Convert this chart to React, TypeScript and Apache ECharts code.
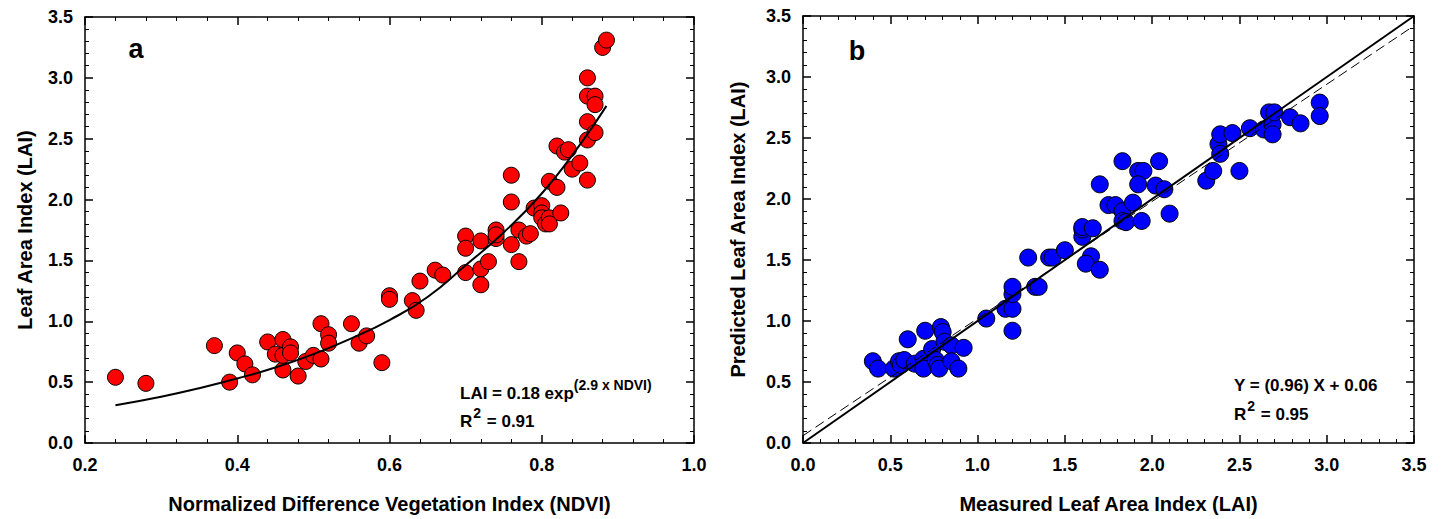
import React, { useEffect, useRef } from "react";
import * as echarts from "echarts";

// Panel a: NDVI vs measured LAI
const ndviValues = [0.24, 0.28, 0.37, 0.39, 0.40, 0.41, 0.42, 0.44, 0.45, 0.46, 0.46, 0.46, 0.47, 0.47, 0.48, 0.49, 0.50, 0.51, 0.51, 0.52, 0.52, 0.55, 0.56, 0.57, 0.59, 0.60, 0.60, 0.63, 0.635, 0.64, 0.66, 0.67, 0.70, 0.70, 0.70, 0.72, 0.72, 0.72, 0.73, 0.74, 0.74, 0.74, 0.76, 0.76, 0.76, 0.77, 0.77, 0.78, 0.785, 0.79, 0.80, 0.80, 0.80, 0.805, 0.81, 0.81, 0.81, 0.82, 0.825, 0.82, 0.83, 0.835, 0.84, 0.85, 0.86, 0.86, 0.86, 0.86, 0.86, 0.87, 0.87, 0.87, 0.88, 0.885];
const laiValues = [0.54, 0.49, 0.80, 0.50, 0.74, 0.65, 0.56, 0.83, 0.73, 0.85, 0.60, 0.72, 0.79, 0.74, 0.55, 0.67, 0.72, 0.98, 0.69, 0.89, 0.82, 0.98, 0.82, 0.88, 0.66, 1.21, 1.18, 1.17, 1.09, 1.33, 1.42, 1.38, 1.70, 1.60, 1.40, 1.66, 1.43, 1.30, 1.49, 1.75, 1.68, 1.71, 2.20, 1.98, 1.63, 1.75, 1.49, 1.70, 1.72, 1.93, 1.95, 1.89, 1.85, 1.80, 1.85, 1.80, 2.15, 2.10, 1.89, 2.44, 2.39, 2.41, 2.25, 2.30, 2.16, 2.49, 2.64, 2.85, 3.00, 2.85, 2.78, 2.55, 3.25, 3.31];

// Fitted exponential curve
const curveNdvi = [0.24, 0.3, 0.35, 0.4, 0.45, 0.5, 0.55, 0.6, 0.65, 0.7, 0.75, 0.8, 0.85, 0.885];
const curveLai = [0.31, 0.38, 0.45, 0.53, 0.62, 0.73, 0.86, 1.01, 1.2, 1.46, 1.73, 2.05, 2.45, 2.77];

// Panel b: measured vs predicted LAI
const measuredLai = [0.40, 0.43, 0.52, 0.55, 0.56, 0.58, 0.60, 0.64, 0.69, 0.69, 0.70, 0.74, 0.76, 0.77, 0.78, 0.79, 0.80, 0.81, 0.85, 0.85, 0.89, 0.92, 1.05, 1.16, 1.20, 1.20, 1.20, 1.20, 1.29, 1.33, 1.35, 1.41, 1.43, 1.50, 1.60, 1.60, 1.60, 1.65, 1.62, 1.66, 1.70, 1.70, 1.75, 1.79, 1.83, 1.83, 1.83, 1.85, 1.89, 1.92, 1.95, 1.92, 1.94, 2.02, 2.04, 2.07, 2.10, 2.31, 2.35, 2.38, 2.39, 2.39, 2.46, 2.50, 2.56, 2.64, 2.67, 2.69, 2.69, 2.70, 2.79, 2.85, 2.96, 2.96];
const predictedLai = [0.67, 0.61, 0.61, 0.67, 0.64, 0.68, 0.85, 0.65, 0.69, 0.61, 0.92, 0.77, 0.68, 0.64, 0.61, 0.95, 0.91, 0.83, 0.80, 0.67, 0.61, 0.78, 1.02, 1.10, 0.92, 1.10, 1.22, 1.28, 1.52, 1.28, 1.28, 1.52, 1.52, 1.58, 1.69, 1.75, 1.77, 1.53, 1.47, 1.76, 1.42, 2.12, 1.95, 1.95, 2.31, 1.90, 1.82, 1.81, 1.97, 2.23, 2.23, 2.12, 1.82, 2.11, 2.31, 2.08, 1.88, 2.15, 2.23, 2.45, 2.53, 2.37, 2.54, 2.23, 2.58, 2.57, 2.71, 2.61, 2.53, 2.71, 2.67, 2.62, 2.79, 2.68];

const oneToOneX = [0, 3.5];
const oneToOneY = [0, 3.5];
const regressionX = [0, 3.5];
const regressionY = [0.06, 3.42];

const FONT = "'Liberation Sans', Arial, sans-serif";
const EQ_FONT = `bold 17px ${FONT}`;
const SUP_FONT = `bold 14px ${FONT}`;

function zip(a: number[], b: number[]) {
  return a.map((v, i) => [v, b[i]]);
}

function measure(text: string, font: string) {
  const ctx = document.createElement("canvas").getContext("2d");
  if (!ctx) return text.length * 9;
  ctx.font = font;
  return ctx.measureText(text).width;
}

function axis(
  kind: "x" | "y",
  gridIndex: number,
  position: string,
  min: number,
  max: number,
  interval: number,
  showLabels: boolean,
  name: string,
  nameGap: number
) {
  return {
    type: "value",
    gridIndex,
    position,
    min,
    max,
    interval,
    name: showLabels ? name : "",
    nameLocation: "middle",
    nameGap,
    nameTextStyle: { fontFamily: FONT, fontWeight: "bold", fontSize: 20, color: "#000" },
    axisLine: { show: true, onZero: false, lineStyle: { color: "#000", width: 1.5 } },
    axisTick: { show: true, inside: true, length: 8, lineStyle: { color: "#000", width: 1.5 } },
    minorTick: { show: true, splitNumber: 5, length: 4, lineStyle: { color: "#000", width: 1 } },
    axisLabel: {
      show: showLabels,
      margin: kind === "x" ? 13 : 12,
      fontFamily: FONT,
      fontWeight: "bold",
      fontSize: 18,
      color: "#000",
      formatter: (v: number) => v.toFixed(1),
    },
    splitLine: { show: false },
    minorSplitLine: { show: false },
  };
}

function eqTexts(x: number, y: number, main: string, sup: string, y2: number, r2: string) {
  const w1 = measure(main, EQ_FONT);
  const wR = measure("R", EQ_FONT);
  const wSup2 = measure("2", SUP_FONT);
  const base = { fill: "#000", textAlign: "left", textVerticalAlign: "middle" };
  const els: any[] = [
    { type: "text", x, y, style: { ...base, text: main, font: EQ_FONT } },
    { type: "text", x: x + w1, y: y - 8, style: { ...base, text: sup, font: SUP_FONT } },
    { type: "text", x, y: y2, style: { ...base, text: "R", font: EQ_FONT } },
    { type: "text", x: x + wR + 1, y: y2 - 8, style: { ...base, text: "2", font: SUP_FONT } },
    { type: "text", x: x + wR + wSup2 + 2, y: y2, style: { ...base, text: r2, font: EQ_FONT } },
  ];
  return els;
}

export default function App() {
  const ref = useRef<HTMLDivElement>(null);
  useEffect(() => {
    if (!ref.current) return;
    const chart = echarts.init(ref.current, null, { renderer: "svg" });
    const option = {
      animation: false,
      backgroundColor: "#fff",
      grid: [
        { left: 85, right: 750, top: 17, bottom: 75 },
        { left: 803, right: 30, top: 16, bottom: 75 },
      ],
      xAxis: [
        axis("x", 0, "bottom", 0.2, 1.0, 0.2, true, "Normalized Difference Vegetation Index (NDVI)", 51),
        axis("x", 0, "top", 0.2, 1.0, 0.2, false, "", 0),
        axis("x", 1, "bottom", 0, 3.5, 0.5, true, "Measured Leaf Area Index (LAI)", 51),
        axis("x", 1, "top", 0, 3.5, 0.5, false, "", 0),
      ],
      yAxis: [
        axis("y", 0, "left", 0, 3.5, 0.5, true, "Leaf Area Index (LAI)", 50),
        axis("y", 0, "right", 0, 3.5, 0.5, false, "", 0),
        axis("y", 1, "left", 0, 3.5, 0.5, true, "Predicted Leaf Area Index (LAI)", 55),
        axis("y", 1, "right", 0, 3.5, 0.5, false, "", 0),
      ],
      series: [
        {
          type: "scatter",
          xAxisIndex: 0,
          yAxisIndex: 0,
          data: zip(ndviValues, laiValues),
          symbolSize: 16,
          itemStyle: { color: "#ff0000", borderColor: "#000", borderWidth: 1, opacity: 1 },
          z: 2,
        },
        {
          type: "line",
          xAxisIndex: 0,
          yAxisIndex: 0,
          data: zip(curveNdvi, curveLai),
          smooth: true,
          showSymbol: false,
          lineStyle: { color: "#000", width: 2 },
          z: 3,
        },
        {
          type: "scatter",
          xAxisIndex: 2,
          yAxisIndex: 2,
          data: zip(measuredLai, predictedLai),
          symbolSize: 17,
          itemStyle: { color: "#0000ff", borderColor: "#000", borderWidth: 1, opacity: 1 },
          z: 2,
        },
        {
          type: "line",
          xAxisIndex: 2,
          yAxisIndex: 2,
          data: zip(oneToOneX, oneToOneY),
          showSymbol: false,
          lineStyle: { color: "#000", width: 2 },
          z: 3,
        },
        {
          type: "line",
          xAxisIndex: 2,
          yAxisIndex: 2,
          data: zip(regressionX, regressionY),
          showSymbol: false,
          lineStyle: { color: "#000", width: 1, type: [10, 5] },
          z: 3,
        },
      ],
      graphic: [
        {
          type: "text",
          x: 136,
          y: 49,
          style: { text: "a", font: `bold 27px ${FONT}`, fill: "#000", textAlign: "center", textVerticalAlign: "middle" },
        },
        {
          type: "text",
          x: 857,
          y: 51,
          style: { text: "b", font: `bold 27px ${FONT}`, fill: "#000", textAlign: "center", textVerticalAlign: "middle" },
        },
        ...eqTexts(460, 393, "LAI = 0.18 exp", "(2.9 x NDVI)", 421, " = 0.91"),
        ...eqTexts(1234, 385, "Y = (0.96) X + 0.06", "", 414, " = 0.95"),
      ],
    };
    chart.setOption(option as any);
    return () => chart.dispose();
  }, []);
  return (
    <div
      ref={ref}
      style={{ position: "fixed", left: 0, top: 0, width: 1444, height: 519, background: "#fff" }}
    />
  );
}
